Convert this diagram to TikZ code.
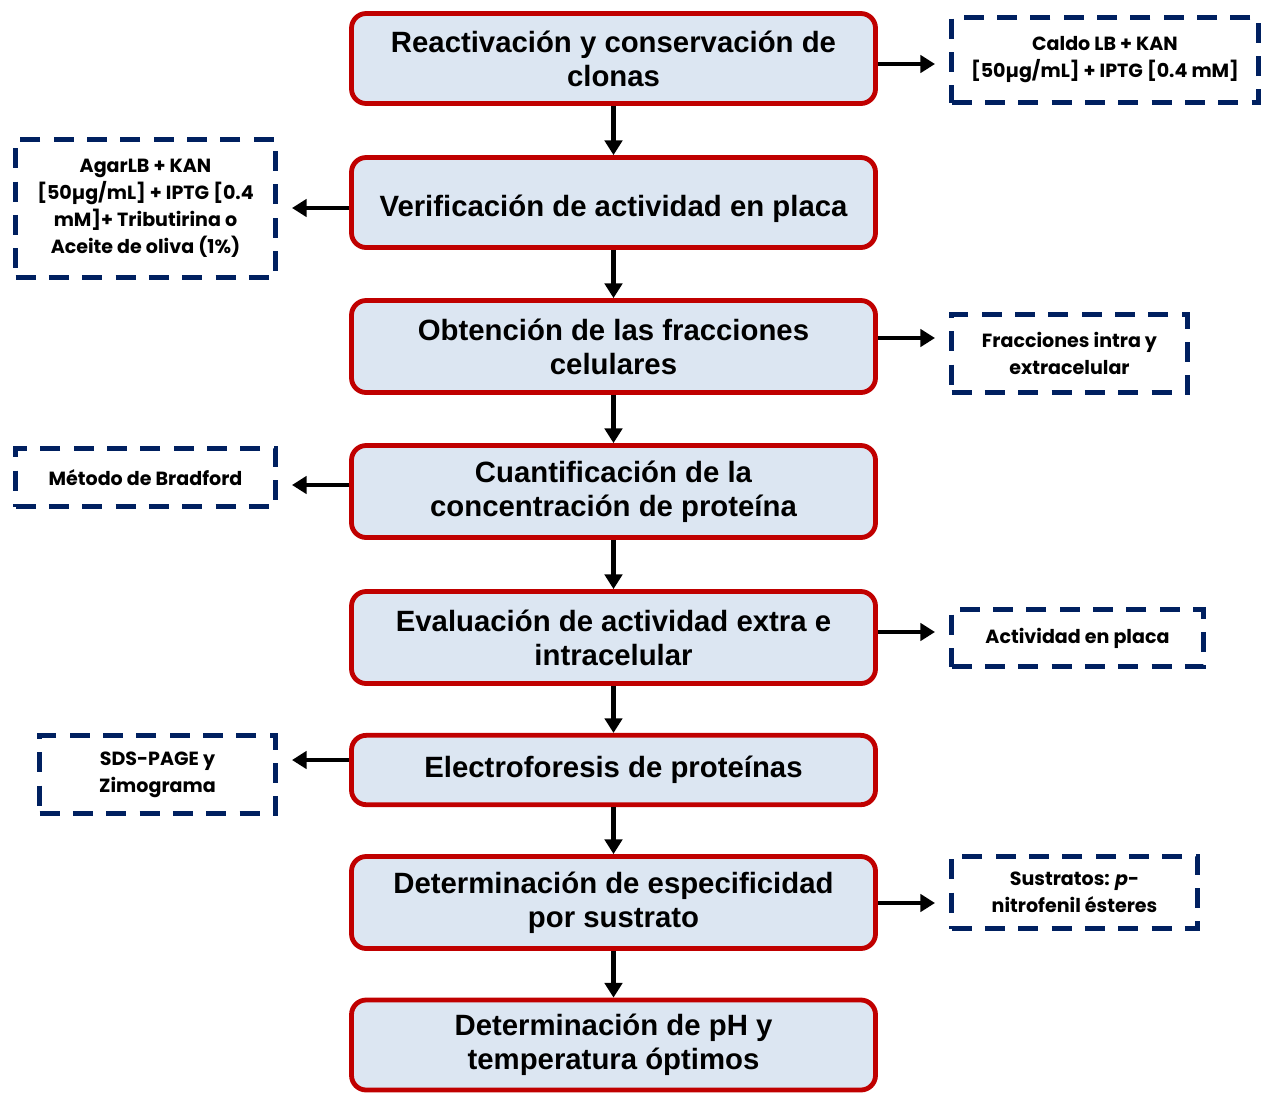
\documentclass[tikz,border=0pt]{standalone}
\usepackage{fontspec}
\setmainfont{Liberation Sans}
\newfontfamily\sidefont{Poppins}
\usetikzlibrary{arrows.meta}
\definecolor{boxfill}{HTML}{DCE6F2}
\definecolor{boxred}{HTML}{C00000}
\definecolor{navy}{HTML}{002060}
\begin{document}
\begin{tikzpicture}[x=0.75pt,y=-0.75pt,
 mainbox/.style={draw=boxred, line width=3.6pt, fill=boxfill, rounded corners=11pt, minimum width=393pt, align=center, font=\fontsize{22}{25.5}\selectfont\bfseries, inner sep=0pt},
 sidebox/.style={draw=navy, line width=3.4pt, dash pattern=on 15pt off 10pt, align=center, font=\sidefont\fontsize{14.3}{20.3}\selectfont\bfseries, inner sep=0pt},
 arr/.style={line width=3.6pt, -{Triangle[length=11pt,width=13pt]}}]
\useasboundingbox (0,0) rectangle (1263,1093);
% main boxes
\node[mainbox, minimum height=67.5pt] (B1) at (613.5,58.5) {Reactivación y conservación de\\clonas};
\node[mainbox, minimum height=67.5pt, text height=22pt, text depth=1pt] (B2) at (613.5,202.5) {Verificación de actividad en placa};
\node[mainbox, minimum height=69pt] (B3) at (613.5,346.5) {Obtención de las fracciones\\celulares};
\node[mainbox, minimum height=69pt] (B4) at (613.5,491.5) {Cuantificación de la\\concentración de proteína};
\node[mainbox, minimum height=69pt] (B5) at (613.5,637.5) {Evaluación de actividad extra e\\intracelular};
\node[mainbox, minimum height=52pt] (B6) at (613.5,770) {Electroforesis de proteínas};
\node[mainbox, minimum height=69pt] (B7) at (613.5,902.5) {Determinación de especificidad\\por sustrato};
\node[mainbox, minimum height=67.5pt] (B8) at (613.5,1045) {Determinación de pH y\\temperatura óptimos};
% side boxes
\node[sidebox, minimum width=230pt, minimum height=64pt] (R1) at (1105,60) {Caldo LB + KAN\\{}[50µg/mL] + IPTG [0.4 mM]};
\node[sidebox, minimum width=195pt, minimum height=103.5pt] (L1) at (145.5,208.5) {AgarLB + KAN\\{}[50µg/mL] + IPTG [0.4\\mM]+ Tributirina o\\Aceite de oliva (1\%)};
\node[sidebox, minimum width=177pt, minimum height=58.5pt] (R2) at (1069.5,353.5) {Fracciones intra y\\extracelular};
\node[sidebox, minimum width=195pt, minimum height=43.5pt] (L2) at (145.5,477.5) {Método de Bradford};
\node[sidebox, minimum width=189pt, minimum height=43pt] (R3) at (1077.5,638) {Actividad en placa};
\node[sidebox, minimum width=177pt, minimum height=58.5pt] (L3) at (157.5,774.5) {SDS-PAGE y\\Zimograma};
\node[sidebox, minimum width=184.5pt, minimum height=54pt] (R4) at (1074.5,892.5) {Sustratos: \textit{p}-\\nitrofenil ésteres};
% vertical arrows
\draw[arr] (B1) -- (B2);
\draw[arr] (B2) -- (B3);
\draw[arr] (B3) -- (B4);
\draw[arr] (B4) -- (B5);
\draw[arr] (B5) -- (B6);
\draw[arr] (B6) -- (B7);
\draw[arr] (B7) -- (B8);
% side arrows
\coordinate (t1) at (935,64);
\coordinate (t2) at (292,208);
\coordinate (t3) at (935,338);
\coordinate (t4) at (292,485);
\coordinate (t5) at (935,632);
\coordinate (t6) at (292,760);
\coordinate (t7) at (935,903);
\draw[arr] (B1.east |- t1) -- (t1);
\draw[arr] (B2.west |- t2) -- (t2);
\draw[arr] (B3.east |- t3) -- (t3);
\draw[arr] (B4.west |- t4) -- (t4);
\draw[arr] (B5.east |- t5) -- (t5);
\draw[arr] (B6.west |- t6) -- (t6);
\draw[arr] (B7.east |- t7) -- (t7);
\end{tikzpicture}
\end{document}
